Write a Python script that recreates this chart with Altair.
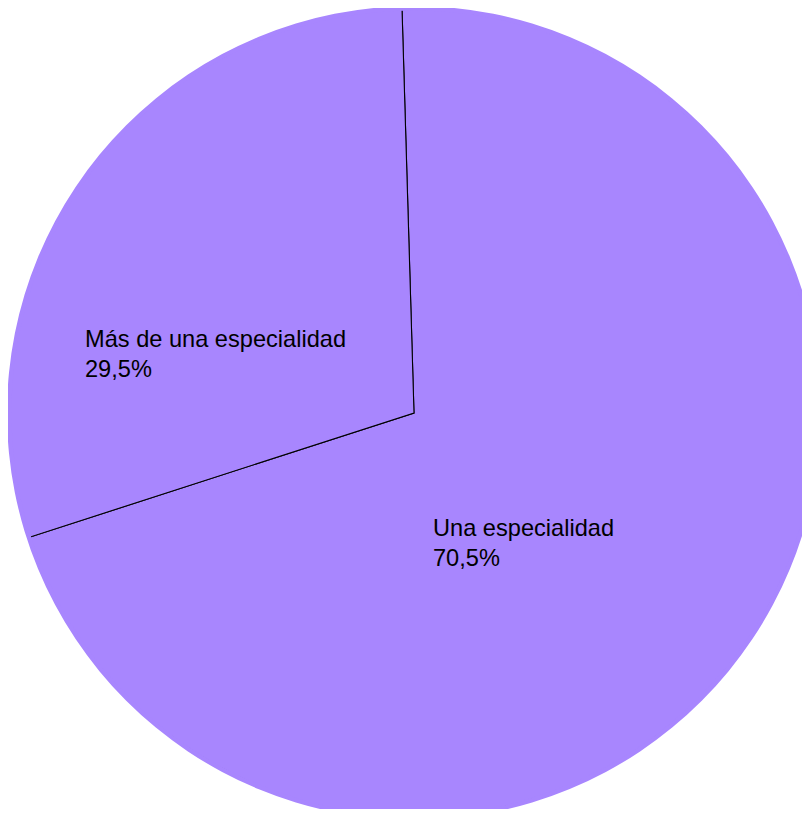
import math
import altair as alt
import pandas as pd

categories = ["Una especialidad", "Más de una especialidad"]
values = [70.5, 29.5]
pct_labels = ["70,5%", "29,5%"]

df = pd.DataFrame({"categoria": categories, "valor": values, "orden": [0, 1],
                   "etiqueta": [c + "\n" + p for c, p in zip(categories, pct_labels)]})

PURPLE = "#A886FE"
start = math.radians(-1.7)
cx, cy, R = 406, 405, 404

base = alt.Chart(df)

pie = base.mark_arc(outerRadius=R, stroke="black", strokeWidth=1.1, fill=PURPLE).encode(
    theta=alt.Theta("valor:Q", stack=True,
                    scale=alt.Scale(range=[start, start + 2 * math.pi])),
    order=alt.Order("orden:Q"),
    x=alt.value(cx), y=alt.value(cy),
)

ring = base.transform_filter("datum.orden == 0").mark_arc(
    innerRadius=R - 1.5, outerRadius=R + 3, theta=0, theta2=2 * math.pi, fill=PURPLE, strokeWidth=0
).encode(x=alt.value(cx), y=alt.value(cy))

def label(idx, px, py):
    return base.transform_filter(f"datum.orden == {idx}").mark_text(
        align="left", baseline="alphabetic", font="Liberation Sans", fontSize=23.6,
        lineBreak="\n", lineHeight=29.5, color="black"
    ).encode(text="etiqueta:N", x=alt.value(px), y=alt.value(py))

chart = alt.layer(pie, ring, label(1, 77, 339), label(0, 425, 528)).properties(
    width=794, height=801, padding=0, autosize=alt.AutoSizeParams(type="none")
).configure_view(stroke=None)

chart.save("out.html", embed_options={"renderer": "svg", "actions": False})
